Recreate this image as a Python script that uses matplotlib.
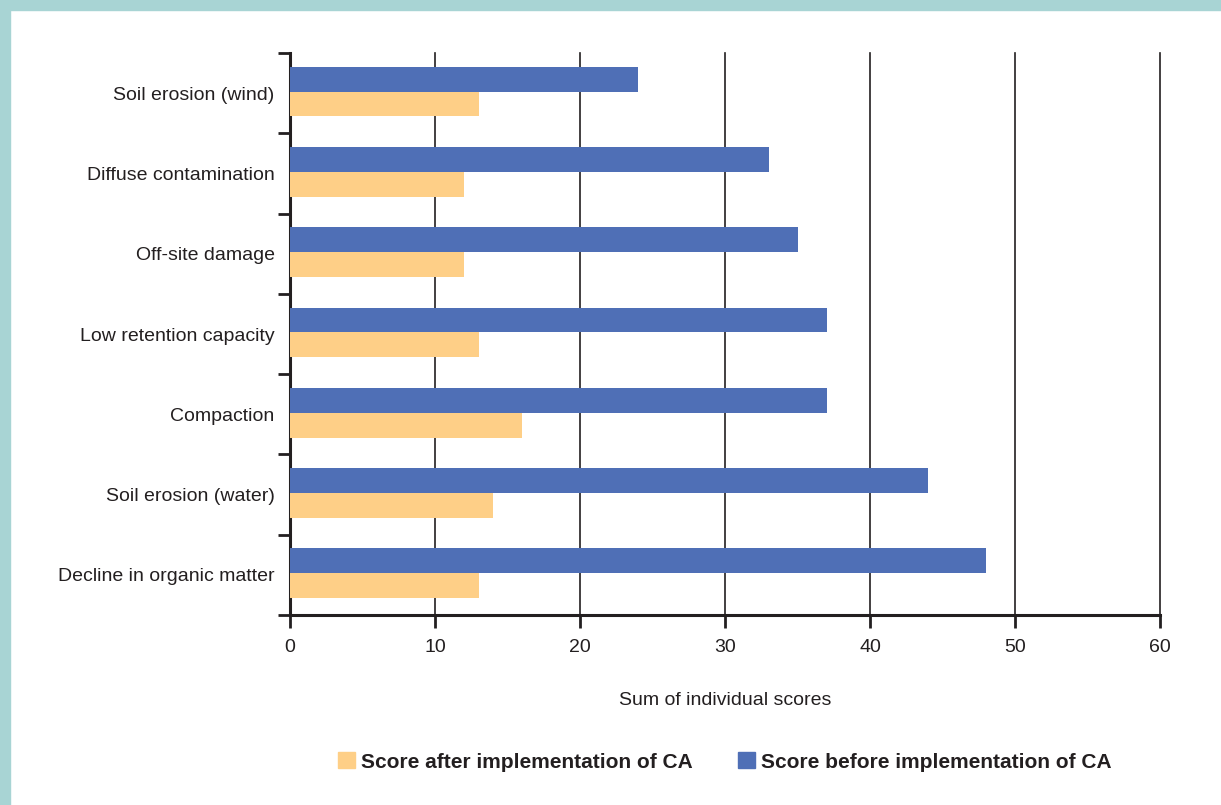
import matplotlib.pyplot as plt
from matplotlib.patches import Rectangle
import numpy as np

categories = ['Decline in organic matter', 'Soil erosion (water)', 'Compaction',
              'Low retention capacity', 'Off-site damage', 'Diffuse contamination',
              'Soil erosion (wind)']
before = [48, 44, 37, 37, 35, 33, 24]
after = [13, 14, 16, 13, 12, 12, 13]
x_ticks = [0, 10, 20, 30, 40, 50, 60]

blue = '#4f6fb6'
orange = '#fecf87'
teal = '#a8d4d4'
ink = '#231f20'

plt.rcParams['font.family'] = ['Liberation Sans', 'DejaVu Sans']

fig = plt.figure(figsize=(12.21, 8.05), dpi=100)
# teal frame at top and left
fig.patches.append(Rectangle((0, 1 - 10 / 805), 1, 10 / 805, transform=fig.transFigure,
                             color=teal, zorder=0))
fig.patches.append(Rectangle((0, 0), 10 / 1221, 1, transform=fig.transFigure,
                             color=teal, zorder=0))

ax = fig.add_axes([290 / 1221, 190 / 805, 870 / 1221, 562 / 805])
y = np.arange(len(categories))
h = 0.31
ax.barh(y + h / 2 + 0.02, before, height=h, color=blue, zorder=3)
ax.barh(y - h / 2 + 0.02, after, height=h, color=orange, zorder=3)

ax.set_xlim(0, 60)
ax.set_ylim(-0.5, len(categories) - 0.5)
ax.set_xticks(x_ticks)
ax.set_xticklabels([str(t) for t in x_ticks], fontsize=14, color=ink)
ax.set_yticks(y)
ax.set_yticklabels(categories, fontsize=14, color=ink)
ax.set_yticks(np.arange(len(categories) + 1) - 0.5, minor=True)
ax.tick_params(axis='y', which='major', length=0, pad=11)
ax.tick_params(axis='y', which='minor', length=9, width=2, color=ink)
ax.tick_params(axis='x', length=9, width=2, color=ink, pad=8)
ax.grid(axis='x', color=ink, linewidth=1.2, zorder=1)
for gl in ax.get_xgridlines():
    gl.set_clip_on(False)

for s in ['top', 'right']:
    ax.spines[s].set_visible(False)
for s in ['left', 'bottom']:
    ax.spines[s].set_linewidth(2.2)
    ax.spines[s].set_color(ink)

ax.set_xlabel('Sum of individual scores', fontsize=14, color=ink, labelpad=26)

handles = [Rectangle((0, 0), 1, 1, color=orange), Rectangle((0, 0), 1, 1, color=blue)]
fig.legend(handles, ['Score after implementation of CA', 'Score before implementation of CA'],
           loc='center', bbox_to_anchor=(725 / 1221, 1 - 762 / 805), ncol=2, frameon=False,
           handlelength=0.8, handleheight=0.8, handletextpad=0.3, columnspacing=2.2,
           prop={'size': 15, 'weight': 'bold'}, labelcolor=ink)

fig.savefig('out.png', dpi=100)
